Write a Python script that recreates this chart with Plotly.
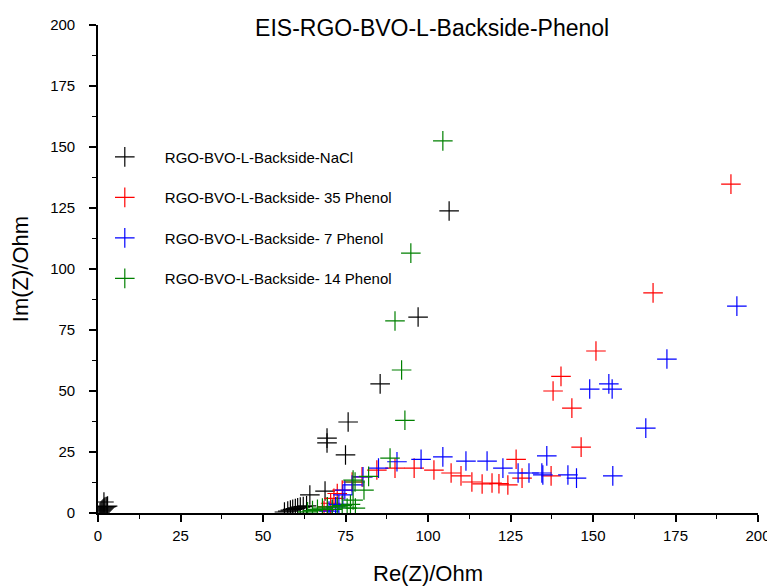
import plotly.graph_objects as go

# ---- data ----
nacl_x = [0.6, 0.9, 1.2, 1.5, 1.8, 2.1, 2.5, 2.9, 1.8,
          56.5, 57.5, 58.3, 59.0, 59.8, 60.5, 61.3, 62.2, 63.2,
          64.2, 68.8, 69.4, 69.4, 75.0, 75.8, 85.5, 97.0, 106.4]
nacl_y = [0.3, 0.8, 1.2, 1.6, 2.0, 2.4, 2.6, 2.8, 4.5,
          0.4, 0.8, 1.2, 1.5, 1.8, 2.1, 2.4, 2.6, 2.9,
          7.4, 9.0, 28.7, 30.7, 23.8, 37.3, 52.9, 80.3, 123.8]

p35_x = [68.5, 69.5, 70.5, 71.5, 72.5, 74.0, 77.0, 80.0, 84.5, 90.0, 95.8,
         101.8, 107.0, 110.0, 113.3, 116.4, 119.4, 121.5, 124.2, 128.5, 126.7,
         137.3, 146.4, 143.6, 137.9, 140.3, 150.9, 168.2, 191.8]
p35_y = [1.0, 2.5, 4.0, 6.0, 8.0, 9.4, 12.7, 14.8, 17.6, 18.4, 18.4,
         17.6, 16.4, 15.2, 12.7, 11.9, 12.3, 12.0, 11.5, 14.3, 22.0,
         15.2, 27.0, 43.0, 50.0, 56.0, 66.4, 90.2, 134.8]

p7_x = [70.0, 71.0, 72.0, 73.0, 74.2, 74.8, 77.0, 80.3, 85.0, 90.6, 97.9,
        104.5, 111.5, 117.9, 122.7, 127.3, 130.6, 134.5, 134.8, 136.0, 142.4,
        145.0, 156.0, 149.0, 154.8, 155.8, 166.0, 172.4, 193.6]
p7_y = [0.8, 1.5, 2.5, 3.5, 7.4, 9.4, 11.5, 14.8, 18.4, 21.0, 22.0,
        23.0, 21.3, 21.3, 18.4, 16.4, 16.4, 16.4, 15.6, 23.4, 15.6,
        14.3, 15.2, 50.8, 52.9, 50.8, 34.8, 63.1, 84.8]

p14_x = [63.5, 65.0, 66.5, 68.0, 69.5, 71.0, 72.5, 74.0, 75.5, 76.5, 77.3,
         78.0, 77.3, 77.9, 80.6, 82.0, 88.5, 93.0, 92.0, 90.0, 94.8, 104.5]
p14_y = [0.5, 1.0, 1.5, 2.0, 2.5, 1.5, 2.5, 3.0, 2.0, 3.5, 5.3,
         2.0, 13.5, 12.7, 9.4, 15.0, 22.5, 38.0, 58.6, 78.7, 106.5, 152.5]

names = ["RGO-BVO-L-Backside-NaCl", "RGO-BVO-L-Backside- 35 Phenol",
         "RGO-BVO-L-Backside- 7 Phenol", "RGO-BVO-L-Backside- 14 Phenol"]
colors = ["#000000", "#FF0000", "#0000FF", "#008000"]
series = [(nacl_x, nacl_y), (p35_x, p35_y), (p7_x, p7_y), (p14_x, p14_y)]

x_ticks = [0, 25, 50, 75, 100, 125, 150, 175, 200]
y_ticks = [0, 25, 50, 75, 100, 125, 150, 175, 200]

FONT = "Liberation Sans, Arial, sans-serif"

fig = go.Figure()
for i, ((xs, ys), nm, c) in enumerate(zip(series, names, colors)):
    fig.add_trace(go.Scatter(
        x=xs, y=ys, mode="markers", name=nm, legendgroup=str(i),
        marker=dict(symbol="cross-thin", size=14, color=c,
                    line=dict(color=c, width=1.2)),
    ))

axis_common = dict(
    showline=True, linecolor="black", linewidth=1.6,
    ticks="outside", ticklen=7, tickwidth=1.5, tickcolor="black",
    showgrid=False, zeroline=False, mirror=False, automargin=False,
    tickfont=dict(family=FONT, size=15, color="black"),
    minor=dict(ticks="outside", ticklen=4, tickwidth=1.3, tickcolor="black", dtick=12.5, showgrid=False),
)

fig.update_layout(
    width=767, height=578,
    paper_bgcolor="white", plot_bgcolor="white",
    margin=dict(l=90, r=17, t=17, b=73),
    title=dict(text="EIS-RGO-BVO-L-Backside-Phenol", x=0.553, xanchor="center",
               y=0.965, yanchor="middle",
               font=dict(family=FONT, size=23, color="black")),
    xaxis=dict(range=[0, 200], tickvals=x_ticks, ticklabelstandoff=1,
               title=dict(text="Re(Z)/Ohm", font=dict(family=FONT, size=22, color="black"), standoff=23),
               **axis_common),
    yaxis=dict(range=[0, 200], tickvals=y_ticks, ticklabelstandoff=11,
               title=dict(text="Im(Z)/Ohm", font=dict(family=FONT, size=22, color="black"), standoff=15),
               **axis_common),
    legend=dict(x=-0.020, y=0.763, xanchor="left", yanchor="top",
                bgcolor="rgba(0,0,0,0)", font=dict(family=FONT, size=15, color="black"),
                tracegroupgap=18, itemwidth=70),
    showlegend=True,
)

fig.write_html("out.html")
